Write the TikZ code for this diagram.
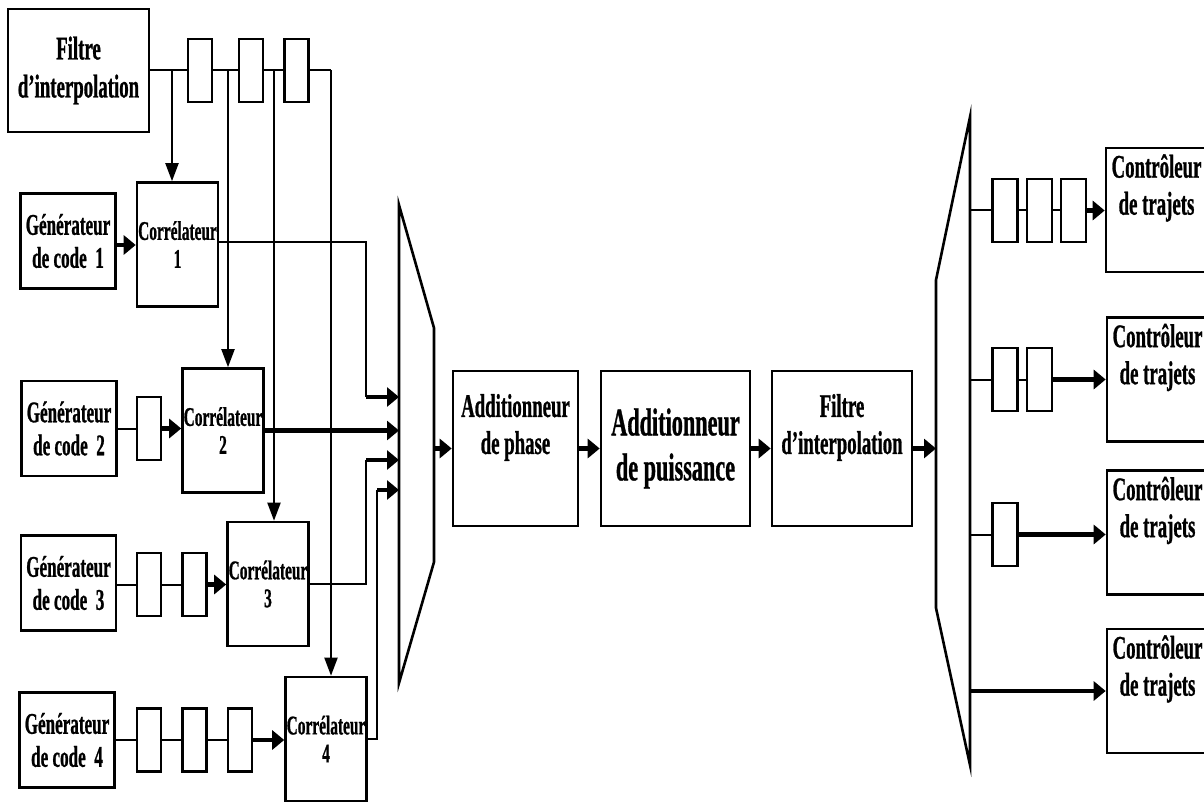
\documentclass[tikz,border=0pt]{standalone}
\usepackage{fontspec}
\setmainfont{Liberation Serif}[FakeStretch=0.57, FakeBold=0.8]
\usetikzlibrary{arrows.meta}
\tikzset{
  box/.style={draw, line width=2.6pt, inner sep=0pt, align=center},
  gen/.style={box, minimum width=95pt, minimum height=95pt, font=\bfseries\fontsize{30}{33}\selectfont},
  corr/.style={box, minimum width=81pt, minimum height=124pt, font=\bfseries\fontsize{27}{28}\selectfont},
  delay/.style={draw, line width=2.4pt, inner sep=0pt, minimum width=24pt, minimum height=63pt},
  mid/.style={box, minimum height=155pt, font=\bfseries\fontsize{33}{37}\selectfont},
  ctl/.style={box, minimum width=101pt, minimum height=124pt, font=\bfseries\fontsize{33}{37}\selectfont},
  thin/.style={line width=2pt},
  thick line/.style={line width=4.5pt},
  arr/.style={-{Triangle[length=12pt,width=19pt]}},
  varr/.style={line width=2pt, -{Triangle[length=18pt,width=13pt]}},
  mux/.style={line width=2.6pt, line join=miter},
}
\begin{document}
\begin{tikzpicture}[x=1pt,y=-1pt]
\useasboundingbox (0,0) rectangle (1204,802);
% left column
\node[box, minimum width=141pt, minimum height=123pt, font=\bfseries\fontsize{33}{38}\selectfont] (filt1) at (78.5,70.5) {Filtre\\d’interpolation};
\node[delay] (d1) at (200,70.5) {};
\node[delay] (d2) at (251,70.5) {};
\node[delay] (d3) at (296.5,70.5) {};
\coordinate (b1) at (172,70.5);
\coordinate (b2) at (228,70.5);
\coordinate (b3) at (274,70.5);
\coordinate (t4) at (331,70.5);

\node[gen] (gen1) at (68,241) {Générateur\\de code~~1};
\node[gen] (gen2) at (69,428.5) {Générateur\\de code~~2};
\node[gen] (gen3) at (68.5,583) {Générateur\\de code~~3};
\node[gen] (gen4) at (67,740) {Générateur\\de code~~4};

\node[corr] (corr1) at (177.5,244.5) {Corrélateur\\1};
\node[corr] (corr2) at (223,430.5) {Corrélateur\\2};
\node[corr] (corr3) at (268,584) {Corrélateur\\3};
\node[corr] (corr4) at (326,739) {Corrélateur\\4};

\node[delay] (d21) at (149,428.5) {};
\node[delay] (d31) at (149,584.5) {};
\node[delay] (d32) at (194.5,584.5) {};
\node[delay] (d41) at (149,740) {};
\node[delay] (d42) at (194.5,740) {};
\node[delay] (d43) at (240,740) {};

% top line and branches
\draw[thin] (filt1.east) -- (d1.west);
\draw[thin] (d1.east) -- (d2.west);
\draw[thin] (d2.east) -- (d3.west);
\draw[thin] (d3.east) -- (t4);
\draw[varr] (b1) -- (b1 |- corr1.north);
\draw[varr] (b2) -- (b2 |- corr2.north);
\draw[varr] (b3) -- (b3 |- corr3.north);
\draw[varr] (t4) -- (t4 |- corr4.north);

% generator rows
\draw[thick line, arr] (gen1.east |- 0,245) -- (corr1.west |- 0,245);
\draw[thin] (gen2.east) -- (d21.west);
\draw[thick line, arr] (d21.east) -- (d21.east -| corr2.west);
\draw[thin] (gen3.east |- d31) -- (d31.west);
\draw[thin] (d31.east) -- (d32.west);
\draw[thick line, arr] (d32.east) -- (d32.east -| corr3.west);
\draw[thin] (gen4.east) -- (d41.west);
\draw[thin] (d41.east) -- (d42.west);
\draw[thin] (d42.east) -- (d43.west);
\draw[thick line, arr] (d43.east) -- (d43.east -| corr4.west);

% left multiplexer
\draw[mux] (399,205) -- (434,328) -- (434,562) -- (399,683) -- cycle;
\coordinate (m1) at (399,397);
\coordinate (m2) at (399,430.5);
\coordinate (m3) at (399,460);
\coordinate (m4) at (399,490);
\coordinate (k1) at (366,397);
\coordinate (k3) at (366,460);
\coordinate (k4) at (377,490);
\draw[thin] (corr1.east |- 0,242) -| (k1);
\draw[thick line, arr] (k1) -- (m1);
\draw[thick line, arr] (corr2.east) -- (m2);
\draw[thin] (corr3.east) -| (k3);
\draw[thick line, arr] (k3) -- (m3);
\draw[thin] (corr4.east) -| (k4);
\draw[thick line, arr] (k4) -- (m4);

% middle chain
\node[mid, minimum width=125pt] (phase) at (515.5,448.5) {Additionneur\\de phase\\[12pt]};
\node[mid, minimum width=149pt, font=\bfseries\fontsize{39}{45}\selectfont] (puis) at (675.5,448.5) {Additionneur\\de puissance};
\node[mid, minimum width=140pt] (filt2) at (842,448.5) {Filtre\\d’interpolation\\[12pt]};
\coordinate (mo) at (434,448.5);
\coordinate (ri) at (936,448.5);
\draw[thick line, arr] (mo) -- (phase.west);
\draw[thick line, arr] (phase.east) -- (puis.west);
\draw[thick line, arr] (puis.east) -- (filt2.west);
\draw[thick line, arr] (filt2.east) -- (ri);

% right multiplexer
\draw[mux] (970,117) -- (936,280) -- (936,608) -- (970,765) -- cycle;
\coordinate (r1) at (970,210.5);
\coordinate (r2) at (970,379.5);
\coordinate (r3) at (970,534.5);
\coordinate (r4) at (970,691);

\node[ctl] (ctl1) at (1156.5,210) {Contrôleur\\de trajets\\[14pt]};
\node[ctl] (ctl2) at (1157.5,379.5) {Contrôleur\\de trajets\\[14pt]};
\node[ctl] (ctl3) at (1157.5,532.5) {Contrôleur\\de trajets\\[14pt]};
\node[ctl] (ctl4) at (1157.5,691) {Contrôleur\\de trajets\\[14pt]};

\node[delay, minimum width=25pt] (e11) at (1005,210.5) {};
\node[delay, minimum width=25pt] (e12) at (1039.5,210.5) {};
\node[delay, minimum width=25pt] (e13) at (1073.5,210.5) {};
\node[delay, minimum width=25pt] (e21) at (1005,379.5) {};
\node[delay, minimum width=25pt] (e22) at (1039.5,379.5) {};
\node[delay, minimum width=25pt] (e31) at (1005,534.5) {};

\draw[thin] (r1) -- (e11.west);
\draw[thin] (e11.east) -- (e12.west);
\draw[thin] (e12.east) -- (e13.west);
\draw[thick line, arr] (e13.east) -- (e13.east -| ctl1.west);
\draw[thin] (r2) -- (e21.west);
\draw[thin] (e21.east) -- (e22.west);
\draw[thick line, arr] (e22.east) -- (e22.east -| ctl2.west);
\draw[thin] (r3) -- (e31.west);
\draw[thick line, arr] (e31.east) -- (e31.east -| ctl3.west);
\draw[thick line, arr] (r4) -- (ctl4.west);
\end{tikzpicture}
\end{document}
